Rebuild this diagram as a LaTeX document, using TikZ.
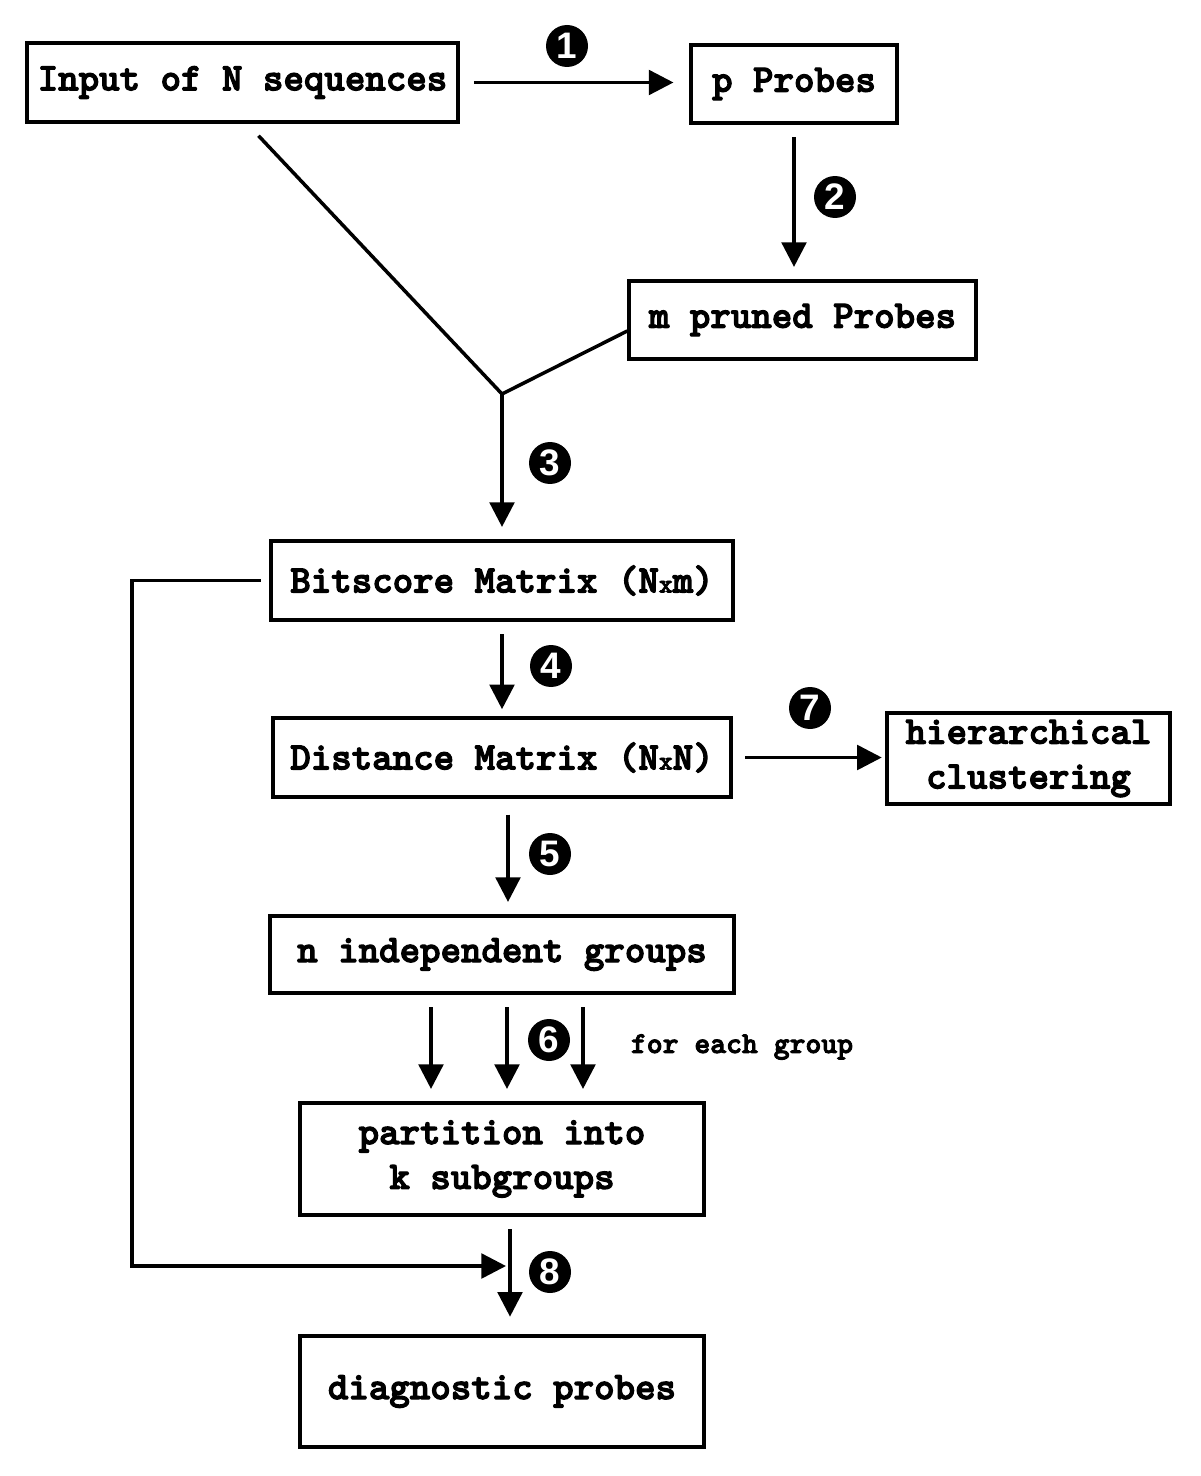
\documentclass[tikz,border=0pt]{standalone}
\usepackage{fontspec}
\usetikzlibrary{arrows.meta,calc}
\newfontfamily\boxfont{lmmonolt10-bold.otf}[FakeBold=3]
\newfontfamily\numfont{Liberation Sans}
\newcommand{\smallx}{{\fontsize{15}{15}\selectfont x}}
\tikzstyle{box} = [draw,line width=2pt,align=center,inner sep=0pt,font=\boxfont\fontsize{22.2}{25.5}\selectfont]
\tikzstyle{stepnum} = [circle,fill=black,text=white,inner sep=0pt,minimum size=0.84cm,font=\numfont\bfseries\fontsize{21}{21}\selectfont]
\tikzstyle{line} = [line width=2pt]
\tikzstyle{flow} = [line,-{Triangle[length=14pt,width=14pt]},shorten <=7pt,shorten >=7pt]

\begin{document}
\begin{tikzpicture}[x=0.02cm,y=-0.02cm]
		\useasboundingbox (0,0) rectangle (1200,1476);
		\node[box,minimum width=8.62cm,minimum height=1.58cm] (in) at (242.5,82.5) {Input of N sequences};
		\node[box,minimum width=4.12cm,minimum height=1.56cm] (pp) at (794,84) {p Probes};
		\node[box,minimum width=6.94cm,minimum height=1.56cm] (mp) at (802.5,320) {m pruned Probes};
		\node[box,minimum width=9.24cm,minimum height=1.58cm] (bits) at (502,580.5) {Bitscore Matrix (N\smallx m)};
		\node[box,minimum width=9.16cm,minimum height=1.58cm] (dist) at (502,757.5) {Distance Matrix (N\smallx N)};
		\node[box,minimum width=5.66cm,minimum height=1.82cm] (hc) at (1028.5,758.5) {hierarchical\\clustering};
		\node[box,minimum width=9.28cm,minimum height=1.54cm] (grp) at (502,954.5) {n independent groups};
		\node[box,minimum width=8.08cm,minimum height=2.24cm] (part) at (502,1159) {partition into\\k subgroups};
		\node[box,minimum width=8.08cm,minimum height=2.22cm] (diag) at (502,1391.5) {diagnostic probes};
		\node[font=\boxfont\fontsize{17.2}{17.2}\selectfont] (each) at (742,1047) {for each group};
		\coordinate (join) at (502,394);
		\coordinate (corner) at (132,1266);
		\draw[flow,shorten <=8pt,shorten >=9pt] (in.east) -- (in.east -| pp.west);
		\draw[flow] (pp.south) -- (pp.south |- mp.north);
		\draw[line] ($(in.south)+(16,12)$) -- (join) -- ($(mp.west)+(0,11)$);
		\draw[flow,shorten <=0pt] (join) -- (join |- bits.north);
		\draw[flow,shorten >=4pt] (bits.south) -- (dist.north);
		\draw[flow,shorten >=2pt] (dist.east) -- (dist.east -| hc.west);
		\draw[flow,shorten <=9pt] ($(dist.south)+(6,0)$) -- ($(grp.north)+(6,0)$);
		\draw[flow] ($(grp.south)+(-71,0)$) -- ($(part.north)+(-71,0)$);
		\draw[flow] ($(grp.south)+(5,0)$) -- ($(part.north)+(5,0)$);
		\draw[flow] ($(grp.south)+(81,0)$) -- ($(part.north)+(81,0)$);
		\draw[flow,shorten >=10pt] ($(part.south)+(8,0)$) -- ($(diag.north)+(8,0)$);
		\draw[flow,shorten <=5pt,shorten >=0pt] (bits.west) -- (bits.west -| corner) -- (corner) -- ($(corner -| part.south)+(4,0)$);
		\node[stepnum] (s1) at (567,46) {1};
		\node[stepnum] (s2) at (835,197) {2};
		\node[stepnum] (s3) at (550,463) {3};
		\node[stepnum] (s4) at (551,666) {4};
		\node[stepnum] (s5) at (550,854) {5};
		\node[stepnum] (s6) at (549,1040) {6};
		\node[stepnum] (s7) at (810,708) {7};
		\node[stepnum] (s8) at (550,1272) {8};
\end{tikzpicture}
\end{document}
